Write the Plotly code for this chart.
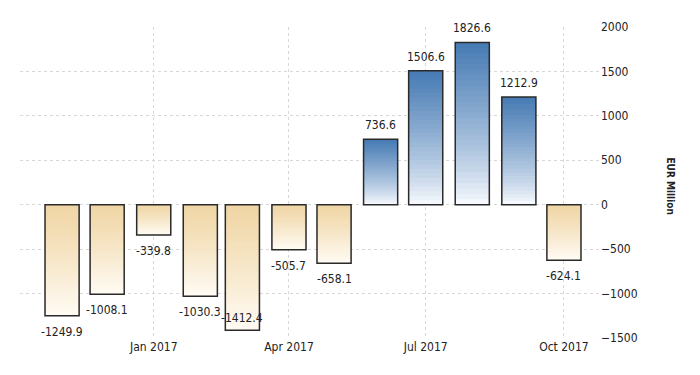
import plotly.graph_objects as go

months = ["2016-11-01", "2016-12-01", "2017-01-01", "2017-02-01", "2017-03-01", "2017-04-01",
          "2017-05-01", "2017-06-01", "2017-07-01", "2017-08-01", "2017-09-01", "2017-10-01"]
values = [-1249.9, -1008.1, -339.8, -1030.3, -1412.4, -505.7,
          -658.1, 736.6, 1506.6, 1826.6, 1212.9, -624.1]
y_ticks = [-1500, -1000, -500, 0, 500, 1000, 1500, 2000]

FONT = "Liberation Sans Narrow, DejaVu Sans Condensed, Arial Narrow, sans-serif"
BAR_W = 22.7 * 86400000  # ms

POS_TOP = (70, 122, 180)
POS_BOT = (252, 253, 255)
NEG_TOP = (240, 214, 166)
NEG_BOT = (255, 252, 245)


def mix(a, b, t):
    return "rgb(%d,%d,%d)" % tuple(round(a[i] + (b[i] - a[i]) * t) for i in range(3))


fig = go.Figure()
N = 30
for k in range(N):
    frac = 1 - k / N
    t = 1 - (k + 0.5) / N  # position from base (0) to tip (1)
    cols = []
    for v in values:
        if v >= 0:
            cols.append(mix(POS_BOT, POS_TOP, t ** 0.8))
        else:
            cols.append(mix(NEG_TOP, NEG_BOT, t ** 1.2))
    fig.add_trace(go.Bar(
        x=months, y=[v * frac for v in values], width=BAR_W,
        marker=dict(color=cols, line=dict(width=0)),
        hoverinfo="skip", showlegend=False,
    ))

fig.add_trace(go.Bar(
    x=months, y=values, width=BAR_W,
    marker=dict(color="rgba(0,0,0,0)", line=dict(color="#2a2a2a", width=1.5)),
    showlegend=False,
))

for m, v in zip(months, values):
    if v >= 0:
        shift = 14
    elif v < -1350:
        shift = 12
    else:
        shift = -16
    fig.add_annotation(x=m, y=v, text="%.1f" % v, showarrow=False, yshift=shift,
                       font=dict(family=FONT, size=12, color="#222222"))

fig.add_annotation(xref="paper", yref="paper", x=1.121, y=0.49, text="<b>EUR Million</b>",
                   textangle=90, showarrow=False, xanchor="center", yanchor="middle",
                   font=dict(family=FONT, size=10, color="#222222"))

fig.update_layout(
    width=692, height=367,
    margin=dict(l=12, r=100, t=15, b=37),
    barmode="overlay",
    plot_bgcolor="white", paper_bgcolor="white",
    font=dict(family=FONT, size=12, color="#222222"),
    xaxis=dict(type="date", range=["2016-10-04", "2017-10-25"],
               tick0="2017-01-01", dtick="M3", tickformat="%b %Y",
               showgrid=True, gridcolor="#d8d8d8", griddash="dot", gridwidth=1,
               zeroline=False, showline=False, ticks=""),
    yaxis=dict(side="right", range=[-1500, 2000], tickvals=y_ticks,
               showgrid=True, gridcolor="#d8d8d8", griddash="dot", gridwidth=1,
               zeroline=False, showline=False, ticks=""),
)

fig.write_html("out.html")
